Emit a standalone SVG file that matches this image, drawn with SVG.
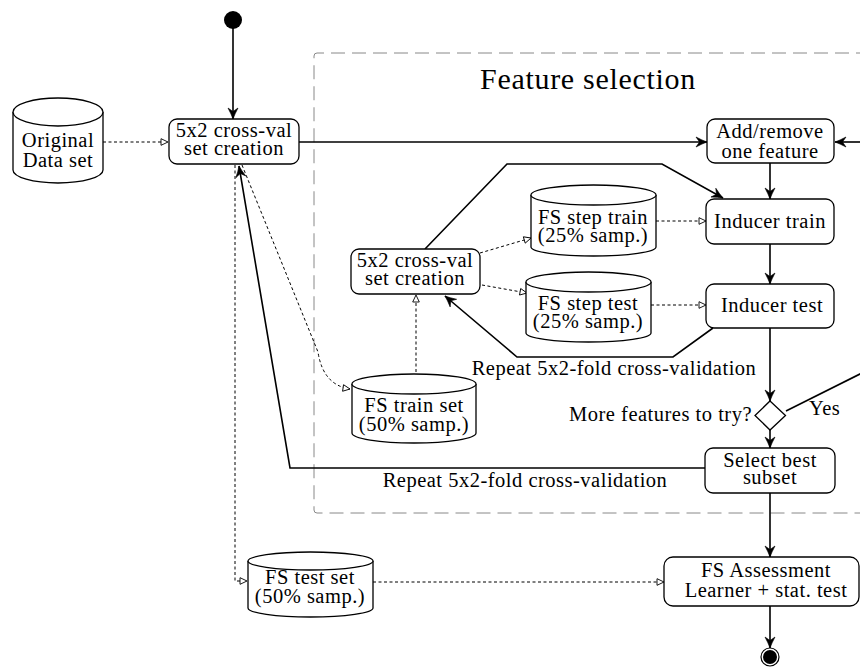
<svg xmlns="http://www.w3.org/2000/svg" width="860" height="667" viewBox="0 0 860 667">
  <style>
    text { font-family: 'Liberation Serif', 'Times New Roman', serif; font-size: 20.5px; letter-spacing: 0.5px; fill: #000; }
    .c { text-anchor: middle; }
    .e { text-anchor: end; }
    .title { font-size: 30px; letter-spacing: 0.7px; }
    .box { fill: #fff; stroke: #000; stroke-width: 1.3; }
    .db { fill: #fff; stroke: #000; stroke-width: 1.3; }
    .flow { fill: none; stroke: #000; stroke-width: 1.6; }
    .data { fill: none; stroke: #000; stroke-width: 1; stroke-dasharray: 3 2.5; }
    .frame { fill: none; stroke: #888; stroke-width: 1; stroke-dasharray: 14 7; }
  </style>
  <defs>
    <marker id="arrow" viewBox="-12 -6 13 12" refX="0" refY="0" markerWidth="13" markerHeight="12" markerUnits="userSpaceOnUse" orient="auto">
      <path d="M0,0 Q-5,-1.8 -11,-5 L-7.5,0 L-11,5 Q-5,1.8 0,0 Z" fill="#000" stroke="#000" stroke-width="0.6" stroke-linejoin="round"/>
    </marker>
    <marker id="open" viewBox="-9 -5 10 10" refX="0" refY="0" markerWidth="10" markerHeight="10" markerUnits="userSpaceOnUse" orient="auto">
      <path d="M0,0 L-7,-3.3 L-7,3.3 Z" fill="#fff" stroke="#000" stroke-width="0.9"/>
    </marker>
  </defs>

  <rect width="860" height="667" fill="#fff"/>

  <!-- feature selection frame (runs off the right edge) -->
  <g id="fs-frame">
    <path class="frame" d="M870,53 L317,53 Q314,53 314,56 L314,510 Q314,513 317,513 L870,513"/>
    <text class="title c" x="588" y="89">Feature selection</text>
  </g>

  <!-- connectors -->
  <g id="connectors">
    <line class="flow" x1="233" y1="28" x2="233" y2="119" marker-end="url(#arrow)"/>
    <line class="data" x1="103" y1="142" x2="168" y2="142" marker-end="url(#open)"/>
    <line class="flow" x1="299" y1="142" x2="707" y2="142" marker-end="url(#arrow)"/>
    <line class="flow" x1="862" y1="142" x2="835" y2="142" marker-end="url(#arrow)"/>
    <line class="flow" x1="770" y1="163" x2="770" y2="199" marker-end="url(#arrow)"/>
    <line class="flow" x1="770" y1="244" x2="770" y2="284" marker-end="url(#arrow)"/>
    <line class="flow" x1="770" y1="328" x2="770" y2="401" marker-end="url(#arrow)"/>
    <line class="flow" x1="770" y1="430" x2="770" y2="448" marker-end="url(#arrow)"/>
    <line class="flow" x1="770" y1="493" x2="770" y2="557" marker-end="url(#arrow)"/>
    <line class="flow" x1="770" y1="606" x2="770" y2="648" marker-end="url(#arrow)"/>
    <line class="flow" x1="786" y1="411" x2="862" y2="373"/>
    <!-- outer loop back to the first split -->
    <polyline class="flow" points="705,468 290,468 239,166" marker-end="url(#arrow)"/>
    <!-- inner loop: split to train, test back to split -->
    <polyline class="flow" points="425,249 507,164 662,164 723,198" marker-end="url(#arrow)"/>
    <polyline class="flow" points="713,328 673,357 517,357 445,296" marker-end="url(#arrow)"/>
    <!-- data flows -->
    <path class="data" d="M242,165 L318,352 Q323,385 350,389" marker-end="url(#open)"/>
    <polyline class="data" points="235,165 235,581 247,581" marker-end="url(#open)"/>
    <line class="data" x1="416" y1="372" x2="416" y2="295" marker-end="url(#open)"/>
    <line class="data" x1="480" y1="253" x2="531" y2="238" marker-end="url(#open)"/>
    <line class="data" x1="482" y1="285" x2="527" y2="293" marker-end="url(#open)"/>
    <line class="data" x1="656" y1="221" x2="706" y2="221" marker-end="url(#open)"/>
    <line class="data" x1="651" y1="305" x2="706" y2="305" marker-end="url(#open)"/>
    <line class="data" x1="373" y1="582" x2="664" y2="582" marker-end="url(#open)"/>
    <text class="c" x="614" y="375">Repeat 5x2-fold cross-validation</text>
    <text class="c" x="525" y="487">Repeat 5x2-fold cross-validation</text>
    <text x="809" y="415">Yes</text>
  </g>

  <!-- start / end -->
  <g id="start">
    <circle cx="233" cy="20" r="9" fill="#000"/>
  </g>
  <g id="end">
    <circle cx="770" cy="657" r="9" fill="#fff" stroke="#000" stroke-width="1.2"/>
    <circle cx="770" cy="657" r="7" fill="#000"/>
  </g>

  <!-- data stores -->
  <g id="original-data">
    <path class="db" d="M13,112 L13,170 A45,13 0 0 0 103,170 L103,112"/>
    <ellipse class="db" cx="58" cy="112" rx="45" ry="14"/>
    <text class="c" x="58" y="147">Original<tspan x="58" dy="19.5">Data set</tspan></text>
  </g>
  <g id="fs-train-set">
    <path class="db" d="M352,384 L352,433 A62,10 0 0 0 476,433 L476,384"/>
    <ellipse class="db" cx="414" cy="384" rx="62" ry="10"/>
    <text class="c" x="414" y="412">FS train set<tspan x="414" dy="18.5">(50% samp.)</tspan></text>
  </g>
  <g id="fs-test-set">
    <path class="db" d="M248,561 L248,608 A62.5,9 0 0 0 373,608 L373,561"/>
    <ellipse class="db" cx="310.5" cy="561" rx="62.5" ry="9"/>
    <text class="c" x="310" y="584">FS test set<tspan x="310" dy="19">(50% samp.)</tspan></text>
  </g>
  <g id="fs-step-train">
    <path class="db" d="M531,195 L531,247 A62.5,9 0 0 0 656,247 L656,195"/>
    <ellipse class="db" cx="593.5" cy="195" rx="62.5" ry="10"/>
    <text class="c" x="593" y="224">FS step train<tspan x="593" dy="18">(25% samp.)</tspan></text>
  </g>
  <g id="fs-step-test">
    <path class="db" d="M526,282 L526,333 A62.5,9 0 0 0 651,333 L651,282"/>
    <ellipse class="db" cx="588.5" cy="282" rx="62.5" ry="10"/>
    <text class="c" x="588" y="310">FS step test<tspan x="588" dy="18">(25% samp.)</tspan></text>
  </g>

  <!-- activities -->
  <g id="split-outer">
    <rect class="box" x="169" y="119" width="130" height="45" rx="8"/>
    <text class="c" x="234" y="137">5x2 cross-val<tspan x="234" dy="18">set creation</tspan></text>
  </g>
  <g id="split-inner">
    <rect class="box" x="351" y="249" width="129" height="45" rx="8"/>
    <text class="c" x="415" y="267">5x2 cross-val<tspan x="415" dy="18">set creation</tspan></text>
  </g>
  <g id="add-remove">
    <rect class="box" x="707" y="119" width="127" height="44" rx="8"/>
    <text class="c" x="770" y="138">Add/remove<tspan x="770" dy="20">one feature</tspan></text>
  </g>
  <g id="inducer-train">
    <rect class="box" x="706" y="199" width="128" height="45" rx="8"/>
    <text class="c" x="770" y="228">Inducer train</text>
  </g>
  <g id="inducer-test">
    <rect class="box" x="706" y="284" width="128" height="44" rx="8"/>
    <text class="c" x="772" y="312">Inducer test</text>
  </g>
  <g id="more-features">
    <polygon points="770,401 785.5,415.5 770,430 755,415.5" fill="#fff" stroke="#000" stroke-width="1.3"/>
    <text class="e" x="752" y="421">More features to try?</text>
  </g>
  <g id="select-best">
    <rect class="box" x="705" y="448" width="130" height="45" rx="8"/>
    <text class="c" x="770" y="467">Select best<tspan x="770" dy="17">subset</tspan></text>
  </g>
  <g id="assessment">
    <rect class="box" x="664" y="557" width="195" height="49" rx="9"/>
    <text class="c" x="766" y="577">FS Assessment<tspan x="766" dy="20">Learner + stat. test</tspan></text>
  </g>
</svg>
